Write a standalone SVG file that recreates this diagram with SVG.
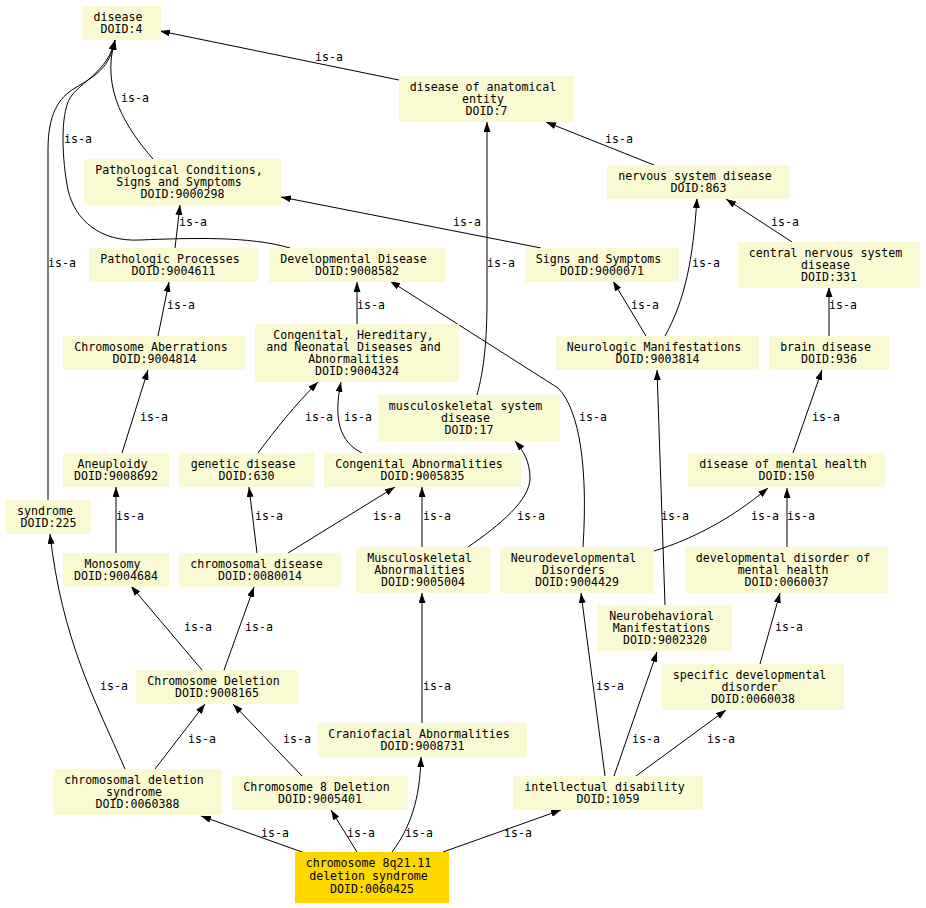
<svg xmlns="http://www.w3.org/2000/svg" width="926" height="908" viewBox="0 0 926 908">
<defs>
<marker id="arr" markerUnits="userSpaceOnUse" markerWidth="10" markerHeight="7" refX="10" refY="3.5" orient="auto"><path d="M0,0 L10,3.5 L0,7 z" fill="#000"/></marker>
<style>
.n rect{fill:#FAFAD2;stroke:none}
.f rect{fill:#FFD700;stroke:none}
text{font-family:"DejaVu Sans Mono",monospace;font-size:11.6px;fill:#000;text-anchor:middle}
.f text{font-size:11.6px}
#edges path{fill:none;stroke:#000;stroke-width:1;marker-end:url(#arr)}
</style>
</defs>
<rect width="926" height="908" fill="#fff"/>
<g id="edges">
<path d="M399,80 L160,31"/>
<path d="M153,159 C128,130 100,90 115,40"/>
<path d="M290,248 C250,236 190,238 140,240 C100,242 75,220 68,190 C62,160 60,115 70,98 C80,82 108,72 115,40"/>
<path d="M48,500 L48,150 C48,115 58,98 75,88 C95,76 110,68 115,40"/>
<path d="M654,165 L546,122"/>
<path d="M477,395 C484,370 487,340 487,300 L487,122"/>
<path d="M792,242 L726,199"/>
<path d="M541,248 L281,197"/>
<path d="M175,248 L180,205"/>
<path d="M646,336 L613,281"/>
<path d="M665,336 C685,300 693,260 697,198"/>
<path d="M829,336 L829,287"/>
<path d="M158,336 L169,282"/>
<path d="M357,324 L357,282"/>
<path d="M122,453 L148,370"/>
<path d="M258,453 C275,430 295,405 318,382"/>
<path d="M362,453 C340,442 333,420 341,382"/>
<path d="M793,453 L822,370"/>
<path d="M583,547 C588,470 580,410 558,388 L390,281"/>
<path d="M116,553 L116,487"/>
<path d="M257,553 L249,487"/>
<path d="M288,553 L395,487"/>
<path d="M422,547 L422,487"/>
<path d="M468,547 C500,525 530,500 530,478 C530,462 523,450 515,441"/>
<path d="M665,605 L657,370"/>
<path d="M654,551 C690,540 730,520 768,488"/>
<path d="M787,547 L787,488"/>
<path d="M202,670 L131,586"/>
<path d="M224,670 L254,587"/>
<path d="M760,664 L780,593"/>
<path d="M125,769 C95,700 62,640 50,534"/>
<path d="M155,769 L205,704"/>
<path d="M302,776 L233,704"/>
<path d="M422,723 L422,593"/>
<path d="M605,776 L581,593"/>
<path d="M614,776 L657,652"/>
<path d="M636,776 L726,710"/>
<path d="M302,852 L201,816"/>
<path d="M357,852 L331,810"/>
<path d="M392,852 C410,828 420,800 421,757"/>
<path d="M443,852 L561,810"/>
</g>
<g id="edge-labels">
<text x="329" y="61">is-a</text>
<text x="135" y="102">is-a</text>
<text x="78" y="143">is-a</text>
<text x="62" y="267">is-a</text>
<text x="193" y="226">is-a</text>
<text x="467" y="226">is-a</text>
<text x="501" y="267">is-a</text>
<text x="619" y="143">is-a</text>
<text x="785" y="226">is-a</text>
<text x="706" y="267">is-a</text>
<text x="645" y="309">is-a</text>
<text x="843" y="309">is-a</text>
<text x="181" y="309">is-a</text>
<text x="371" y="309">is-a</text>
<text x="154" y="421">is-a</text>
<text x="319" y="421">is-a</text>
<text x="358" y="421">is-a</text>
<text x="593" y="421">is-a</text>
<text x="826" y="421">is-a</text>
<text x="130" y="520">is-a</text>
<text x="269" y="520">is-a</text>
<text x="387" y="520">is-a</text>
<text x="437" y="520">is-a</text>
<text x="531" y="520">is-a</text>
<text x="675" y="520">is-a</text>
<text x="765" y="520">is-a</text>
<text x="801" y="520">is-a</text>
<text x="198" y="631">is-a</text>
<text x="259" y="631">is-a</text>
<text x="789" y="631">is-a</text>
<text x="114" y="690">is-a</text>
<text x="437" y="690">is-a</text>
<text x="610" y="690">is-a</text>
<text x="202" y="743">is-a</text>
<text x="297" y="743">is-a</text>
<text x="646" y="743">is-a</text>
<text x="721" y="743">is-a</text>
<text x="275" y="837">is-a</text>
<text x="361" y="837">is-a</text>
<text x="419" y="837">is-a</text>
<text x="518" y="837">is-a</text>
</g>
<g id="n4" class="n"><rect x="82" y="6" width="79" height="34"/><text xml:space="preserve"><tspan x="121.5" y="20.5">disease </tspan><tspan x="121.5" y="32.5">DOID:4</tspan></text></g>
<g id="n7" class="n"><rect x="399" y="76" width="175" height="46"/><text xml:space="preserve"><tspan x="486.5" y="90.5">disease of anatomical </tspan><tspan x="486.5" y="102.5">entity </tspan><tspan x="486.5" y="114.5">DOID:7</tspan></text></g>
<g id="n863" class="n"><rect x="607" y="165" width="183" height="34"/><text xml:space="preserve"><tspan x="698.5" y="179.5">nervous system disease </tspan><tspan x="698.5" y="191.5">DOID:863</tspan></text></g>
<g id="n331" class="n"><rect x="738" y="242" width="182" height="46"/><text xml:space="preserve"><tspan x="829" y="256.5">central nervous system </tspan><tspan x="829" y="268.5">disease </tspan><tspan x="829" y="280.5">DOID:331</tspan></text></g>
<g id="n9000298" class="n"><rect x="84" y="159" width="197" height="46"/><text xml:space="preserve"><tspan x="182.5" y="173.5">Pathological Conditions, </tspan><tspan x="182.5" y="185.5">Signs and Symptoms </tspan><tspan x="182.5" y="197.5">DOID:9000298</tspan></text></g>
<g id="n9004611" class="n"><rect x="89" y="248" width="169" height="34"/><text xml:space="preserve"><tspan x="173.5" y="262.5">Pathologic Processes </tspan><tspan x="173.5" y="274.5">DOID:9004611</tspan></text></g>
<g id="n9008582" class="n"><rect x="269" y="248" width="176" height="34"/><text xml:space="preserve"><tspan x="357" y="262.5">Developmental Disease </tspan><tspan x="357" y="274.5">DOID:9008582</tspan></text></g>
<g id="n9000071" class="n"><rect x="525" y="248" width="154" height="34"/><text xml:space="preserve"><tspan x="602" y="262.5">Signs and Symptoms </tspan><tspan x="602" y="274.5">DOID:9000071</tspan></text></g>
<g id="n9004814" class="n"><rect x="63" y="336" width="183" height="34"/><text xml:space="preserve"><tspan x="154.5" y="350.5">Chromosome Aberrations </tspan><tspan x="154.5" y="362.5">DOID:9004814</tspan></text></g>
<g id="n9004324" class="n"><rect x="255" y="324" width="204" height="58"/><text xml:space="preserve"><tspan x="357" y="338.5">Congenital, Hereditary, </tspan><tspan x="357" y="350.5">and Neonatal Diseases and </tspan><tspan x="357" y="362.5">Abnormalities </tspan><tspan x="357" y="374.5">DOID:9004324</tspan></text></g>
<g id="n9003814" class="n"><rect x="556" y="336" width="203" height="34"/><text xml:space="preserve"><tspan x="657.5" y="350.5">Neurologic Manifestations </tspan><tspan x="657.5" y="362.5">DOID:9003814</tspan></text></g>
<g id="n936" class="n"><rect x="769" y="336" width="120" height="34"/><text xml:space="preserve"><tspan x="829" y="350.5">brain disease </tspan><tspan x="829" y="362.5">DOID:936</tspan></text></g>
<g id="n17" class="n"><rect x="378" y="395" width="182" height="46"/><text xml:space="preserve"><tspan x="469" y="409.5">musculoskeletal system </tspan><tspan x="469" y="421.5">disease </tspan><tspan x="469" y="433.5">DOID:17</tspan></text></g>
<g id="n9008692" class="n"><rect x="63" y="453" width="106" height="34"/><text xml:space="preserve"><tspan x="116" y="467.5">Aneuploidy </tspan><tspan x="116" y="479.5">DOID:9008692</tspan></text></g>
<g id="n630" class="n"><rect x="179" y="453" width="135" height="34"/><text xml:space="preserve"><tspan x="246.5" y="467.5">genetic disease </tspan><tspan x="246.5" y="479.5">DOID:630</tspan></text></g>
<g id="n9005835" class="n"><rect x="324" y="453" width="197" height="34"/><text xml:space="preserve"><tspan x="422.5" y="467.5">Congenital Abnormalities </tspan><tspan x="422.5" y="479.5">DOID:9005835</tspan></text></g>
<g id="n150" class="n"><rect x="688" y="453" width="197" height="34"/><text xml:space="preserve"><tspan x="786.5" y="467.5">disease of mental health </tspan><tspan x="786.5" y="479.5">DOID:150</tspan></text></g>
<g id="n225" class="n"><rect x="6" y="500" width="85" height="34"/><text xml:space="preserve"><tspan x="48.5" y="514.5">syndrome </tspan><tspan x="48.5" y="526.5">DOID:225</tspan></text></g>
<g id="n9004684" class="n"><rect x="63" y="553" width="106" height="34"/><text xml:space="preserve"><tspan x="116" y="567.5">Monosomy </tspan><tspan x="116" y="579.5">DOID:9004684</tspan></text></g>
<g id="n0080014" class="n"><rect x="179" y="553" width="162" height="34"/><text xml:space="preserve"><tspan x="260" y="567.5">chromosomal disease </tspan><tspan x="260" y="579.5">DOID:0080014</tspan></text></g>
<g id="n9005004" class="n"><rect x="356" y="547" width="134" height="46"/><text xml:space="preserve"><tspan x="423" y="561.5">Musculoskeletal </tspan><tspan x="423" y="573.5">Abnormalities </tspan><tspan x="423" y="585.5">DOID:9005004</tspan></text></g>
<g id="n9004429" class="n"><rect x="500" y="547" width="154" height="46"/><text xml:space="preserve"><tspan x="577" y="561.5">Neurodevelopmental </tspan><tspan x="577" y="573.5">Disorders </tspan><tspan x="577" y="585.5">DOID:9004429</tspan></text></g>
<g id="n0060037" class="n"><rect x="685" y="547" width="203" height="46"/><text xml:space="preserve"><tspan x="786.5" y="561.5">developmental disorder of </tspan><tspan x="786.5" y="573.5">mental health </tspan><tspan x="786.5" y="585.5">DOID:0060037</tspan></text></g>
<g id="n9002320" class="n"><rect x="598" y="605" width="134" height="46"/><text xml:space="preserve"><tspan x="665" y="619.5">Neurobehavioral </tspan><tspan x="665" y="631.5">Manifestations </tspan><tspan x="665" y="643.5">DOID:9002320</tspan></text></g>
<g id="n9008165" class="n"><rect x="136" y="670" width="162" height="34"/><text xml:space="preserve"><tspan x="217" y="684.5">Chromosome Deletion </tspan><tspan x="217" y="696.5">DOID:9008165</tspan></text></g>
<g id="n0060038" class="n"><rect x="662" y="664" width="182" height="46"/><text xml:space="preserve"><tspan x="753" y="678.5">specific developmental </tspan><tspan x="753" y="690.5">disorder </tspan><tspan x="753" y="702.5">DOID:0060038</tspan></text></g>
<g id="n9008731" class="n"><rect x="318" y="723" width="209" height="34"/><text xml:space="preserve"><tspan x="422.5" y="737.5">Craniofacial Abnormalities </tspan><tspan x="422.5" y="749.5">DOID:9008731</tspan></text></g>
<g id="n0060388" class="n"><rect x="53" y="769" width="169" height="46"/><text xml:space="preserve"><tspan x="137.5" y="783.5">chromosomal deletion </tspan><tspan x="137.5" y="795.5">syndrome </tspan><tspan x="137.5" y="807.5">DOID:0060388</tspan></text></g>
<g id="n9005401" class="n"><rect x="232" y="776" width="176" height="34"/><text xml:space="preserve"><tspan x="320" y="790.5">Chromosome 8 Deletion </tspan><tspan x="320" y="802.5">DOID:9005401</tspan></text></g>
<g id="n1059" class="n"><rect x="513" y="776" width="190" height="34"/><text xml:space="preserve"><tspan x="608" y="790.5">intellectual disability </tspan><tspan x="608" y="802.5">DOID:1059</tspan></text></g>
<g id="n0060425" class="f"><rect x="295" y="852" width="154" height="51"/><text xml:space="preserve"><tspan x="372" y="867">chromosome 8q21.11 </tspan><tspan x="372" y="880">deletion syndrome </tspan><tspan x="372" y="893">DOID:0060425</tspan></text></g>
</svg>
